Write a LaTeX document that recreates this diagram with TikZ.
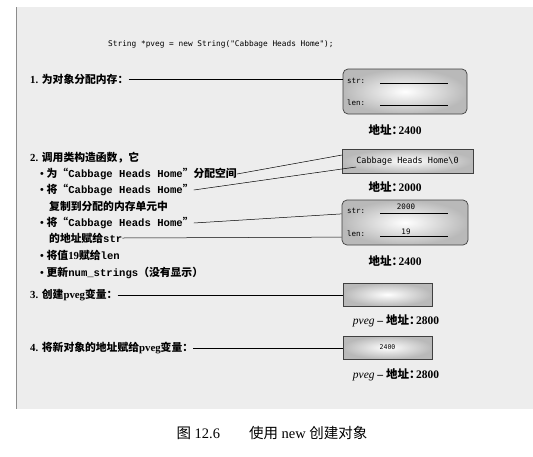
\documentclass[tikz,border=0pt]{standalone}
\usepackage{fontspec}
\setmainfont{Liberation Serif}
\setmonofont{Liberation Mono}
\newfontfamily\zh{Noto Sans CJK SC}
\newfontfamily\codefont{DejaVu Sans Mono}
\newcommand\zw[1]{{\zh #1}}
\newcommand\cw[1]{{\ttfamily\fontsize{10.6}{11}\selectfont #1}}
\newcommand\addrtag{\zw{地址：}\kern-4.5pt}
\usetikzlibrary{shapes,backgrounds,positioning}

\begin{document}
\begin{tikzpicture}[x=1pt,y=-1pt,
    steptext/.style={anchor=west, inner sep=0pt, font=\bfseries\fontsize{10.8}{12}\selectfont},
    addr/.style={inner sep=0pt, font=\bfseries\fontsize{11.5}{13}\selectfont},
    field/.style={anchor=west, inner sep=0pt, font=\codefont\fontsize{7.5}{9}\selectfont},
    objbox/.style={draw=black!75, line width=0.7pt, rounded corners=5pt, shading=radial, inner color=white, outer color=gray!55},
    cellbox/.style={draw=black!75, line width=0.7pt, shading=radial, inner color=white, outer color=gray!55},
    wire/.style={line width=0.5pt}]
            \useasboundingbox (0,0) rectangle (533,456);

            % panel
            \fill[black!7] (16,7) rectangle (533,409);
            \draw[black!45] (16,7) -- (16,409);

            \node[field, font=\codefont\fontsize{7.8}{9}\selectfont] (code) at (108,44) {String *pveg = new String("Cabbage Heads Home");};

            % step 1
            \node[steptext] (lab1) at (30,79) {1. \zw{为对象分配内存：}};
            \path[objbox] (343,69) rectangle (467,114);
            \node[inner sep=0pt, minimum width=124pt, minimum height=45pt] (box1) at (405,91.5) {};
            \node[field] (str1) at (347,81) {str:};
            \node[field] (len1) at (347,103) {len:};
            \draw[wire] (380,83) -- (448,83);
            \draw[wire] (380,105) -- (448,105);
            \node[addr] (addr1) at (395,130) {\addrtag 2400};
            \draw[wire] (lab1.east) -- (lab1.east -| box1.west);

            % step 2
            \node[steptext] (lab2) at (30,158) {2. \zw{调用类构造函数，它}};
            \node[steptext] (b1) at (40,174) {\textbullet\ \zw{为“}\cw{Cabbage Heads Home}\zw{”分配空间}};
            \node[steptext] (b2a) at (40,190) {\textbullet\ \zw{将“}\cw{Cabbage Heads Home}\zw{”}};
            \node[steptext] (b2b) at (49,206) {\zw{复制到分配的内存单元中}};
            \node[steptext] (b3a) at (40,223) {\textbullet\ \zw{将“}\cw{Cabbage Heads Home}\zw{”}};
            \node[steptext] (b3b) at (49,238) {\zw{的地址赋给}\cw{str}};
            \node[steptext] (b4) at (40,255) {\textbullet\ \zw{将值}19\zw{赋给}\cw{len}};
            \node[steptext] (b5) at (40,273) {\textbullet\ \zw{更新}\cw{num\_strings}\zw{（没有显示）}};

            \node[cellbox, minimum width=131pt, minimum height=24pt, inner sep=0pt,
                font=\codefont\fontsize{8.5}{9}\selectfont] (strbox) at (407.5,161) {Cabbage Heads Home\textbackslash 0};
            \node[addr] (addr2) at (395,187) {\addrtag 2000};
            \coordinate (sin1) at (342,155);
            \coordinate (sin2) at (356,167);
            \draw[wire] (b1.east) -- (sin1);
            \draw[wire] (b2a.east) -- (sin2);

            \node[objbox, minimum width=126pt, minimum height=45pt, inner sep=0pt] (box2) at (405,222.5) {};
            \node[field] (str2) at (347,211) {str:};
            \node[field] (len2) at (347,234) {len:};
            \draw[wire] (380,213) -- (448,213);
            \draw[wire] (380,236) -- (448,236);
            \node[field, anchor=center] (val2) at (406,207) {2000};
            \node[field, anchor=center] (val19) at (406,232) {19};
            \node[addr] (addr3) at (395,261) {\addrtag 2400};
            \draw[wire] (b3a.east) -- (box2.west |- str2.south);
            \draw[wire] (b3b.east) -- (box2.west |- len2.south);

            % step 3
            \node[steptext] (lab3) at (30,295) {3. \zw{创建}pveg\zw{变量：}};
            \node[cellbox, minimum width=89pt, minimum height=23pt, inner sep=0pt] (box3) at (387.5,294.5) {};
            \node[addr] (addr4) at (396,321) {\textmd{\textit{pveg}} – \addrtag 2800};
            \draw[wire] (lab3.east) -- (lab3.east -| box3.west);

            % step 4
            \node[steptext] (lab4) at (30,348) {4. \zw{将新对象的地址赋给}pveg\zw{变量：}};
            \node[cellbox, minimum width=89pt, minimum height=23pt, inner sep=0pt,
                font=\codefont\fontsize{6.5}{8}\selectfont] (box4) at (387.5,347.5) {2400};
            \node[addr] (addr5) at (396,375) {\textmd{\textit{pveg}} – \addrtag 2800};
            \draw[wire] (lab4.east) -- (lab4.east -| box4.west);

            \node[font=\fontsize{14.5}{16}\selectfont] (caption) at (272,433) {\zw{图} 12.6\qquad \zw{使用} new \zw{创建对象}};
        \end{tikzpicture}
\end{document}
